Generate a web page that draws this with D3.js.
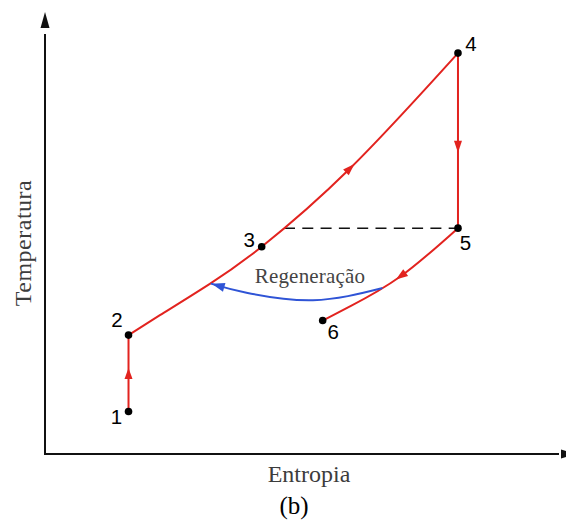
<!DOCTYPE html>
<html>
<head>
<meta charset="utf-8">
<script src="https://cdn.jsdelivr.net/npm/d3@7"></script>
<style>
  html, body { margin: 0; padding: 0; background: #fff; }
  svg { display: block; }
</style>
</head>
<body>
<svg id="chart" width="566" height="521"></svg>
<script>
// ---- Data (entropy / temperature in arbitrary units 0..100) ----
const stateLabels = ["1", "2", "3", "4", "5", "6"];
const stateS = [16.06, 16.06, 41.67, 79.42, 79.42, 53.4];
const stateT = [9.6, 26.9, 46.9, 90.7, 51.1, 30.2];

// compression 1 -> 2
const compS = [16.06, 16.06];
const compT = [9.6, 26.9];
// heating 2 -> 3 -> 4
const heatS = [16.06, 22.1, 31.7, 41.67, 58.65, 79.42];
const heatT = [26.9, 31.4, 38.5, 46.9, 64.6, 90.7];
// turbine 4 -> 5
const turbS = [79.42, 79.42];
const turbT = [90.7, 51.1];
// cooling 5 -> 6
const coolS = [79.42, 68.27, 58.65, 53.4];
const coolT = [51.1, 40.1, 33.4, 30.2];
// regeneration transfer (blue)
const regenS = [64.75, 51.54, 38.75, 32.06];
const regenT = [37.5, 34.8, 36.5, 38.5];
// dashed isotherm from curve to state 5
const dashS = [45.96, 79.42];
const dashT = [51.1, 51.1];

const xLabel = "Entropia";
const yLabel = "Temperatura";
const caption = "(b)";
const regenLabel = "Regeneração";

// ---- Drawing ----
const svg = d3.select("#chart");
const x = d3.scaleLinear().domain([0, 100]).range([45, 565]);
const y = d3.scaleLinear().domain([0, 100]).range([454, 12]);

const RED = "#e2231f";
const BLUE = "#2f54d6";

const zip = (a, b) => a.map((v, i) => [v, b[i]]);
const lineNat = d3.line().x(d => x(d[0])).y(d => y(d[1])).curve(d3.curveNatural);
const lineLin = d3.line().x(d => x(d[0])).y(d => y(d[1]));

// axes with arrows
const axisG = svg.append("g");
axisG.append("line").attr("x1", x(0)).attr("y1", y(0)).attr("x2", x(0)).attr("y2", y(0) - 420)
  .attr("stroke", "#111").attr("stroke-width", 2);
axisG.append("path")
  .attr("d", `M${x(0)},${y(100)} L${x(0) - 4.5},${y(100) + 16} L${x(0) + 4.5},${y(100) + 16} Z`)
  .attr("fill", "#111");
axisG.append("line").attr("x1", x(0) - 1).attr("y1", y(0)).attr("x2", x(100) - 6).attr("y2", y(0))
  .attr("stroke", "#111").attr("stroke-width", 2);
axisG.append("path")
  .attr("d", `M${x(100) + 12},${y(0)} L${x(100) - 4},${y(0) - 4.5} L${x(100) - 4},${y(0) + 4.5} Z`)
  .attr("fill", "#111");

// dashed line
svg.append("path").attr("d", lineLin(zip(dashS, dashT)))
  .attr("fill", "none").attr("stroke", "#111").attr("stroke-width", 1.5)
  .attr("stroke-dasharray", "11,7.3");

// process paths
function drawPath(data, gen, color) {
  return svg.append("path").attr("d", gen(data))
    .attr("fill", "none").attr("stroke", color).attr("stroke-width", 2)
    .attr("stroke-linecap", "round");
}
function arrowAt(pathSel, frac, color, len, half) {
  const node = pathSel.node();
  const L = node.getTotalLength();
  const tip = node.getPointAtLength(L * frac);
  const back = node.getPointAtLength(Math.max(0, L * frac - len));
  const ang = Math.atan2(tip.y - back.y, tip.x - back.x) * 180 / Math.PI;
  svg.append("path")
    .attr("d", `M0,0 L${-len},${-half} L${-len},${half} Z`)
    .attr("transform", `translate(${tip.x},${tip.y}) rotate(${ang})`)
    .attr("fill", color);
}

const pComp = drawPath(zip(compS, compT), lineLin, RED);
const pHeat = drawPath(zip(heatS, heatT), lineNat, RED);
const pTurb = drawPath(zip(turbS, turbT), lineLin, RED);
const pCool = drawPath(zip(coolS, coolT), lineNat, RED);
const pRegen = drawPath(zip(regenS, regenT), lineNat, BLUE);

arrowAt(pComp, 0.57, RED, 11, 4);
arrowAt(pHeat, 0.652, RED, 12, 4);
arrowAt(pTurb, 0.57, RED, 12, 4);
arrowAt(pCool, 0.49, RED, 12, 4.2);
arrowAt(pRegen, 1.0, BLUE, 13, 4.5);

// state points
const states = stateLabels.map((l, i) => ({ l, s: stateS[i], t: stateT[i] }));
svg.selectAll("circle.st").data(states).join("circle")
  .attr("class", "st")
  .attr("cx", d => x(d.s)).attr("cy", d => y(d.t)).attr("r", 3.8)
  .attr("fill", "#000");

// state labels (offsets from state point)
const labelOff = { "1": [-12, 12.5], "2": [-11.5, -8], "3": [-12.5, 0.5], "4": [13, -2], "5": [7.5, 22], "6": [10.5, 18] };
svg.selectAll("text.st").data(states).join("text")
  .attr("class", "st")
  .attr("x", d => x(d.s) + labelOff[d.l][0])
  .attr("y", d => y(d.t) + labelOff[d.l][1])
  .attr("text-anchor", "middle")
  .attr("font-family", "Liberation Sans, Arial, sans-serif")
  .attr("font-size", 20.5)
  .attr("fill", "#000")
  .text(d => d.l);

// regeneration label
svg.append("text")
  .attr("x", 310).attr("y", 283)
  .attr("text-anchor", "middle")
  .attr("font-family", "Liberation Serif, Times New Roman, serif")
  .attr("font-size", 21)
  .attr("letter-spacing", 0.2)
  .attr("fill", "#444")
  .text(regenLabel);

// axis titles
svg.append("text")
  .attr("x", 309).attr("y", 482)
  .attr("text-anchor", "middle")
  .attr("font-family", "Liberation Serif, Times New Roman, serif")
  .attr("font-size", 24)
  .attr("fill", "#3c3c3c")
  .text(xLabel);

svg.append("text")
  .attr("transform", "translate(31,243) rotate(-90)")
  .attr("text-anchor", "middle")
  .attr("font-family", "Liberation Serif, Times New Roman, serif")
  .attr("font-size", 24)
  .attr("letter-spacing", 0.5)
  .attr("fill", "#3c3c3c")
  .text(yLabel);

svg.append("text")
  .attr("x", 294).attr("y", 514)
  .attr("text-anchor", "middle")
  .attr("font-family", "Liberation Serif, Times New Roman, serif")
  .attr("font-size", 25)
  .attr("fill", "#000")
  .text(caption);
</script>
</body>
</html>
